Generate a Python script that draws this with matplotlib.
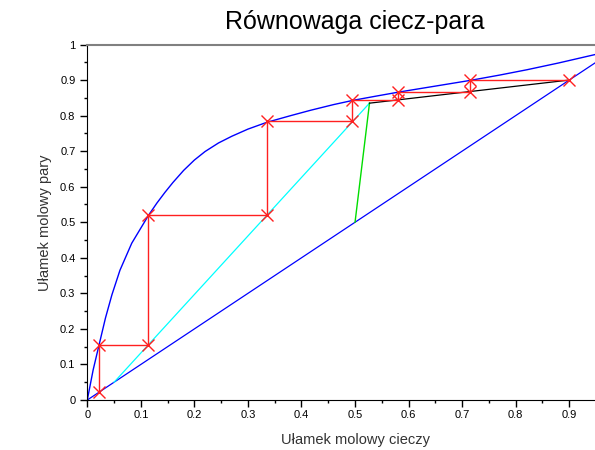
import matplotlib
matplotlib.use("Agg")
import matplotlib.pyplot as plt
from matplotlib.ticker import MultipleLocator, FixedLocator

plt.rcParams['font.family'] = ['Liberation Sans', 'DejaVu Sans']

# equilibrium curve
curve_x = [0.0, 0.011, 0.022, 0.034, 0.046, 0.061, 0.083, 0.1145, 0.13, 0.145,
           0.16, 0.18, 0.20, 0.22, 0.245, 0.27, 0.30, 0.335, 0.38, 0.417,
           0.46, 0.4965, 0.54, 0.581, 0.65, 0.715, 0.77, 0.821, 0.88, 0.949, 1.0]
curve_y = [0.0, 0.085, 0.155, 0.231, 0.296, 0.365, 0.441, 0.520, 0.554, 0.584,
           0.612, 0.646, 0.675, 0.699, 0.723, 0.742, 0.762, 0.781, 0.800, 0.815,
           0.831, 0.843, 0.855, 0.866, 0.883, 0.899, 0.914, 0.929, 0.948, 0.972, 0.99]

# diagonal y = x
diag_x = [0.0, 1.0]
diag_y = [0.0, 1.0]

# operating lines and feed line
rect_x = [0.9, 0.527]
rect_y = [0.9, 0.835]
strip_x = [0.05, 0.527]
strip_y = [0.05, 0.835]
feed_x = [0.5, 0.527]
feed_y = [0.5, 0.835]

# McCabe-Thiele steps
stair_x = [0.9, 0.715, 0.715, 0.581, 0.581, 0.495, 0.495, 0.336, 0.336,
           0.114, 0.114, 0.022, 0.022]
stair_y = [0.9, 0.9, 0.866, 0.866, 0.845, 0.845, 0.784, 0.784, 0.52,
           0.52, 0.155, 0.155, 0.022]

x_ticks = [0, 0.1, 0.2, 0.3, 0.4, 0.5, 0.6, 0.7, 0.8, 0.9]

fig = plt.figure(figsize=(5.95, 4.5), dpi=100)
# axes run past the right edge, like the cropped original
ax = fig.add_axes([0.1467, 0.1111, 0.900, 0.790])

ax.plot(diag_x, diag_y, color='#0000ff', lw=0.9)
ax.plot(curve_x, curve_y, color='#0000ff', lw=1.0)
ax.plot(strip_x, strip_y, color='#00ffff', lw=0.9)
ax.plot(feed_x, feed_y, color='#00dd00', lw=1.0)
ax.plot(rect_x, rect_y, color='black', lw=0.9)
ax.plot(stair_x, stair_y, color='#ff2020', lw=1.0, marker='x',
        markersize=9, markeredgewidth=1.0)

ax.set_xlim(0, 1)
ax.set_ylim(0, 1)
ax.xaxis.set_major_locator(FixedLocator(x_ticks))
ax.xaxis.set_minor_locator(MultipleLocator(0.05))
ax.yaxis.set_major_locator(MultipleLocator(0.1))
ax.yaxis.set_minor_locator(MultipleLocator(0.05))
ax.xaxis.set_major_formatter(lambda v, p: f"{v:g}")
ax.yaxis.set_major_formatter(lambda v, p: f"{v:g}")

ax.tick_params(which='major', length=5, width=1, labelsize=8, direction='out')
ax.tick_params(axis='x', which='major', pad=2.5)
ax.tick_params(which='minor', length=2.5, width=1, direction='out')
ax.tick_params(top=False, right=False)

ax.spines['right'].set_visible(False)
ax.spines['top'].set_color('#808080')
ax.spines['top'].set_linewidth(1.5)

ax.set_title('Równowaga ciecz-para', fontsize=18, pad=11)
ax.set_xlabel('Ułamek molowy cieczy', fontsize=10.5, color='#333333', labelpad=9)
ax.set_ylabel('Ułamek molowy pary', fontsize=10.5, color='#333333', labelpad=6)

fig.savefig('out.png', dpi=100)
